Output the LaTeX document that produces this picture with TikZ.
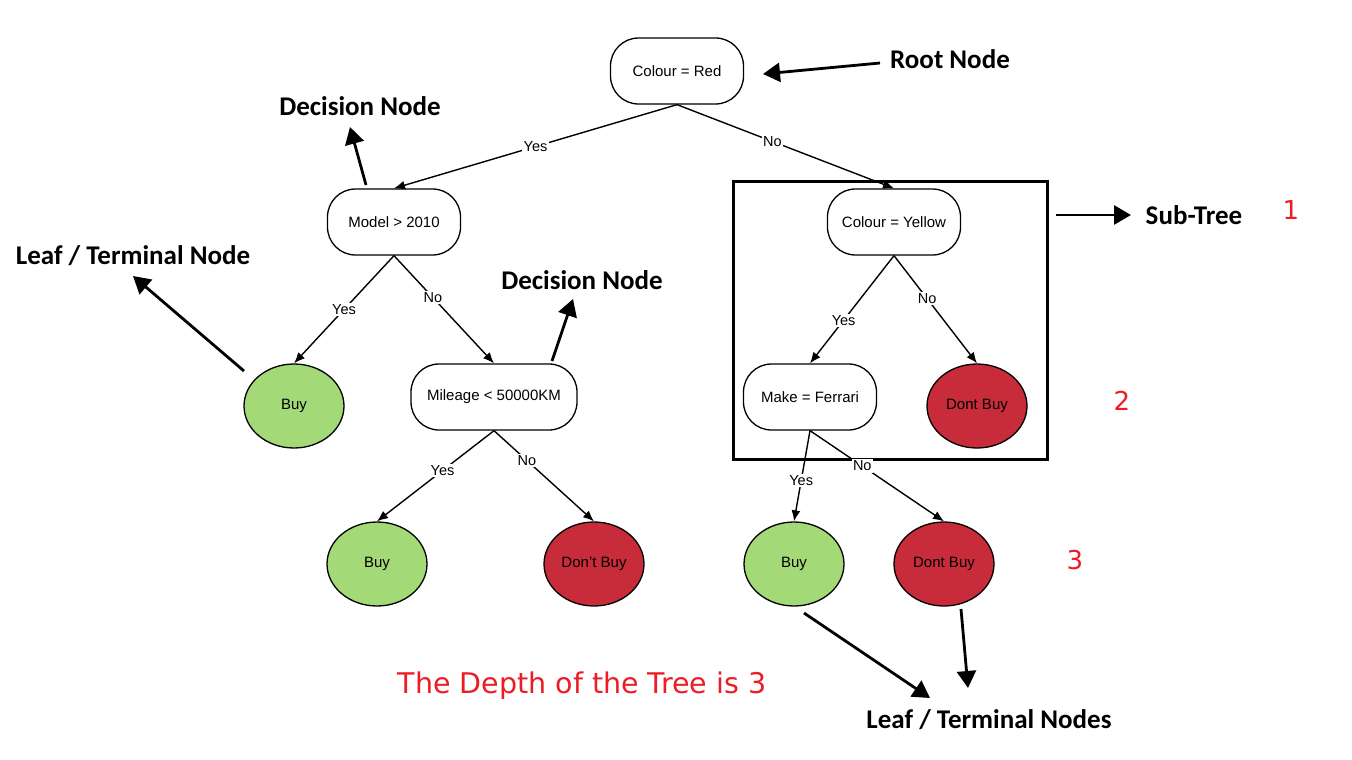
\documentclass[tikz,border=0pt]{standalone}
\usepackage{fontspec}
\setmainfont{Liberation Sans}
\newfontfamily\labelfont{Carlito}
\newfontfamily\redfont{DejaVu Sans}
\usetikzlibrary{arrows.meta,shapes.geometric}
\definecolor{leafgreen}{RGB}{164,217,119}
\definecolor{leafred}{RGB}{200,43,57}
\definecolor{annred}{RGB}{237,28,36}
\begin{document}
\begin{tikzpicture}[x=1pt,y=-1pt,
 decision/.style={draw, line width=1.3pt, rounded corners=28pt, minimum width=133pt, minimum height=66pt, font=\fontsize{15}{17}\selectfont, inner sep=0pt},
 leaf/.style={ellipse, draw, line width=1.3pt, minimum width=100pt, minimum height=84pt, inner sep=0pt, font=\fontsize{15}{17}\selectfont},
 buy/.style={leaf, fill=leafgreen},
 nobuy/.style={leaf, fill=leafred},
 edge/.style={line width=1.4pt, -{Latex[length=11pt,width=9pt]}},
 elabel/.style={fill=white, inner sep=1.5pt, font=\fontsize{14.5}{16}\selectfont},
 ann/.style={line width=2.8pt, -{Triangle[length=17pt,width=19pt]}},
 anntext/.style={font=\labelfont\bfseries\fontsize{27}{30}\selectfont},
 redtext/.style={text=annred, font=\redfont\fontsize{26}{30}\selectfont},
 boxframe/.style={draw, line width=3pt, minimum width=314pt, minimum height=278pt}]
\useasboundingbox (0,0) rectangle (1352,760);

% sub-tree frame
\node[boxframe] (subtree) at (890,320) {};

% decision nodes
\node[decision] (root) at (677,71) {Colour = Red};
\node[decision] (model) at (394,222) {Model > 2010};
\node[decision] (yellow) at (894,222) {Colour = Yellow};
\node[decision, minimum width=166pt] (mileage) at (494,397) {Mileage < 50000KM};
\node[decision] (make) at (810,397) {Make = Ferrari};

% leaves
\node[buy] (buyA) at (294,406) {Buy};
\node[nobuy] (nobuyA) at (977,406) {Dont Buy};
\node[buy] (buyB) at (377,564) {Buy};
\node[nobuy] (nobuyB) at (594,564) {Don't Buy};
\node[buy] (buyC) at (794,564) {Buy};
\node[nobuy] (nobuyC) at (944,564) {Dont Buy};

% edges
\draw[edge] (root.south) -- node[elabel, pos=0.5] {Yes} (model.north);
\draw[edge] (root.south) -- node[elabel, pos=0.44] {No} (yellow.north);
\draw[edge] (model.south) -- node[elabel, pos=0.5] {Yes} (buyA.north);
\draw[edge] (model.south) -- node[elabel, pos=0.39] {No} (mileage.north);
\draw[edge] (yellow.south) -- node[elabel, pos=0.6] {Yes} (make.north);
\draw[edge] (yellow.south) -- node[elabel, pos=0.4] {No} (nobuyA.north);
\draw[edge] (mileage.south) -- node[elabel, pos=0.44] {Yes} (buyB.north);
\draw[edge] (mileage.south) -- node[elabel, pos=0.33] {No} (nobuyB.north);
\draw[edge] (make.south) -- node[elabel, pos=0.55] {Yes} (buyC.north);
\draw[edge] (make.south) -- node[elabel, pos=0.39] {No} (nobuyC.north);

% annotation texts
\node[anntext] (troot) at (950,59) {Root Node};
\node[anntext] (tdec1) at (360,106) {Decision Node};
\node[anntext] (tleaf) at (133,256) {Leaf / Terminal Node};
\node[anntext] (tdec2) at (582,280) {Decision Node};
\node[anntext] (tsub) at (1194,215) {Sub-Tree};
\node[anntext] (tleaves) at (989,720) {Leaf / Terminal Nodes};

\node[redtext] (n1) at (1291,210) {1};
\node[redtext] (n2) at (1122,401) {2};
\node[redtext] (n3) at (1075,560) {3};
\node[redtext, font=\redfont\fontsize{28.5}{32}\selectfont] (depth) at (582,686) {The Depth of the Tree is 3};

% annotation arrow endpoints
\coordinate (aroot0) at (880,63);
\coordinate (aroot1) at (763,74);
\coordinate (adec10) at (366,185);
\coordinate (adec11) at (350,127);
\coordinate (aleaf0) at (244,371);
\coordinate (aleaf1) at (133,276);
\coordinate (adec20) at (552,361);
\coordinate (adec21) at (573,299);
\coordinate (asub0) at (1056,215);
\coordinate (asub1) at (1131,215);
\coordinate (al10) at (804,613);
\coordinate (al11) at (930,698);
\coordinate (al20) at (961,609);
\coordinate (al21) at (968,688);

\draw[ann] (aroot0) -- (aroot1);
\draw[ann] (adec10) -- (adec11);
\draw[ann] (aleaf0) -- (aleaf1);
\draw[ann] (adec20) -- (adec21);
\draw[ann] (asub0) -- (asub1);
\draw[ann] (al10) -- (al11);
\draw[ann] (al20) -- (al21);
\end{tikzpicture}
\end{document}
